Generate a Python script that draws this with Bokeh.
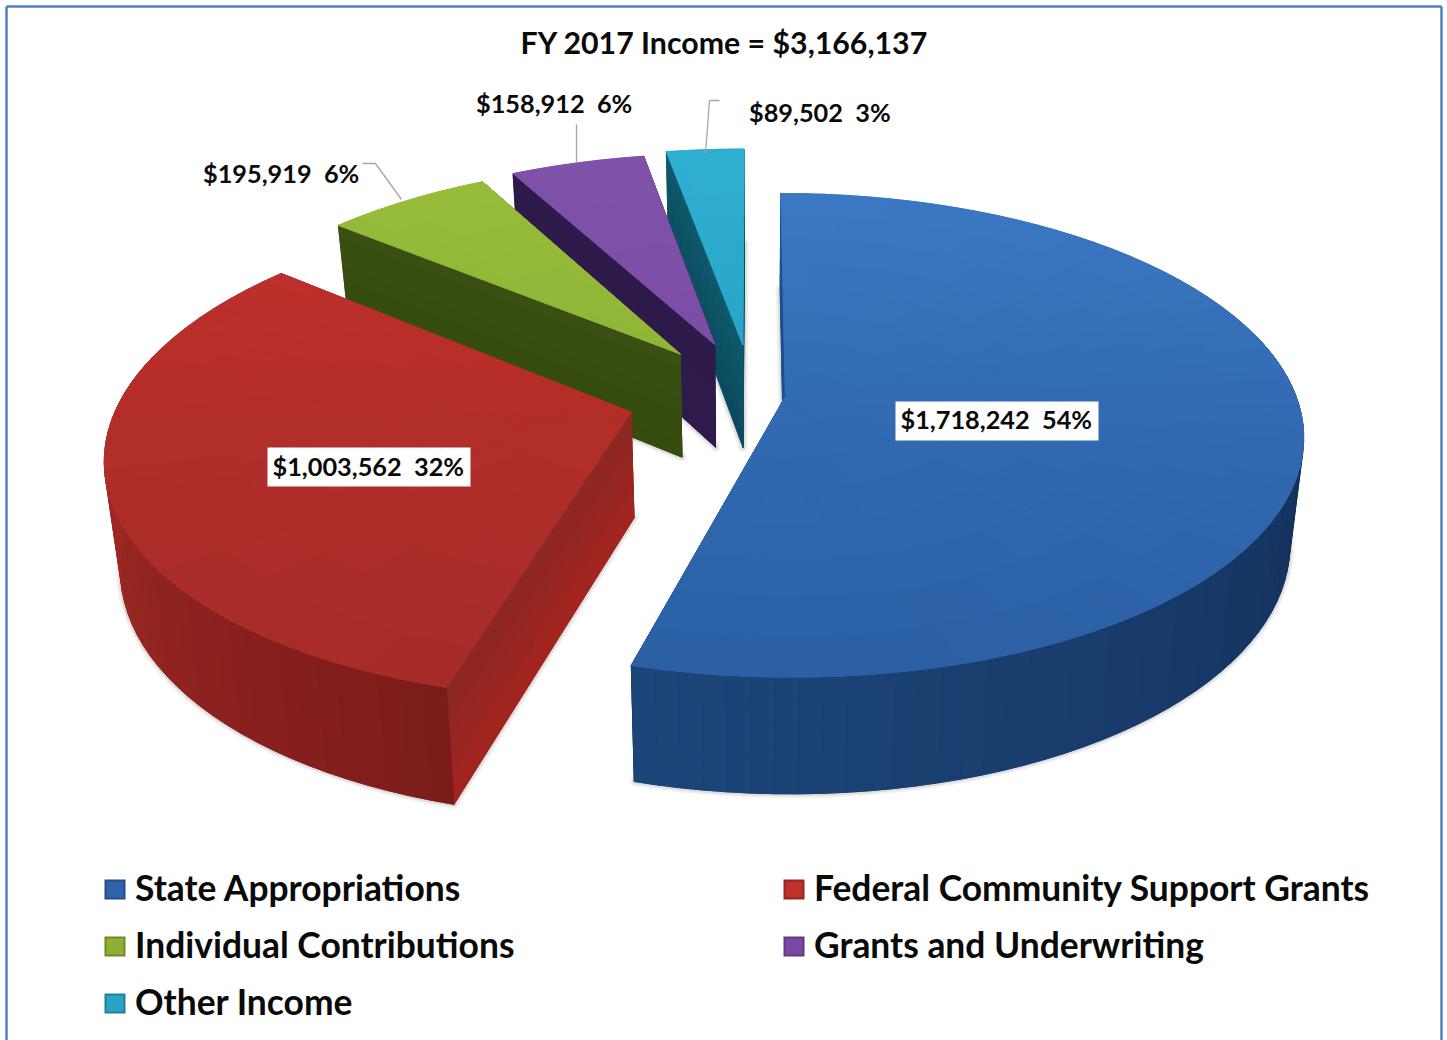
import numpy as np
from bokeh.plotting import figure
from bokeh.models import Range1d
from bokeh.core.properties import value
from bokeh.embed import file_html
from bokeh.resources import INLINE

# ---- data ----
categories = ["State Appropriations", "Federal Community Support Grants",
              "Individual Contributions", "Grants and Underwriting", "Other Income"]
amounts = [1718242, 1003562, 195919, 158912, 89502]
pct_labels = ["54%", "32%", "6%", "6%", "3%"]
chart_title = "FY 2017 Income = $3,166,137"
# explode amount and radius of each slice (Excel point explosion)
explode = [0.065, 0.247, 0.23, 0.234, 0.22]
radius = [1.0, 1.0, 1.0, 1.005, 1.035]

# ---- styles ----
top_light = ["#3c7ac6", "#c4302c", "#98bd3a", "#7f52aa", "#2eaed0"]
top_dark = ["#2a5ea2", "#a52c28", "#86a832", "#7746a0", "#2198bb"]
wall_stops = [["#1f4e8c", "#14315c", "#1c4679"],
              ["#7b1c19", "#9a2723", "#b02d29"],
              ["#3a4f10", "#3a4f10", "#3a4f10"],
              ["#2e1a4a", "#2e1a4a", "#2e1a4a"],
              ["#0f5668", "#0f5668", "#0f5668"]]
face_top = ["#1f4e8c", "#8a2722", "#3a5012", "#2c1a4a", "#0f5a6e"]
face_bottom = ["#1f4e8c", "#a3241f", "#364c0e", "#301a4c", "#0c4a5c"]
FONT = "Lato"

# ---- projection ----
CX, CY, A, B, K = 752.0, 394.0, 510.0, 235.0, 0.16
DEPTH = 105.0


def project(U, V):
    w = 1 - K * V
    return CX + A * U / w, CY + B * V / w, w


def drop(w):
    return DEPTH / w ** 0.6


def rgb(h):
    return np.array([int(h[i:i + 2], 16) for i in (1, 3, 5)], float)


def mix(c1, c2, t):
    t = float(np.clip(t, 0, 1))
    c = rgb(c1) * (1 - t) + rgb(c2) * t
    return "#%02x%02x%02x" % tuple(int(round(v)) for v in c)


def mix3(stops, s):
    return mix(stops[0], stops[1], s * 2) if s < 0.5 else mix(stops[1], stops[2], s * 2 - 1)


p = figure(width=1447, height=1040, x_range=Range1d(0, 1447), y_range=Range1d(1040, 0),
           output_backend="svg", toolbar_location=None, min_border=0, outline_line_color=None,
           x_axis_type=None, y_axis_type=None, background_fill_color="white")
p.grid.visible = False

total = float(sum(amounts))
fracs = np.array(amounts) / total
edges = np.concatenate([[0], np.cumsum(fracs)]) * 2 * np.pi

layers = []
for i in range(len(amounts)):
    t0, t1 = edges[i], edges[i + 1]
    mid = (t0 + t1) / 2
    ox, oy = explode[i] * np.sin(mid), -explode[i] * np.cos(mid)
    R = radius[i]
    n = max(6, int((t1 - t0) / 0.05))
    th = np.linspace(t0, t1, n + 1)

    xs, ys, cs = [], [], []

    def add(px, py, c):
        xs.append(list(px)); ys.append(list(py)); cs.append(c)

    ax, ay, aw = project(np.array([ox]), np.array([oy]))
    ax, ay, aw = ax[0], ay[0], aw[0]
    ex, ey, ew = project(ox + R * np.sin(th), oy - R * np.cos(th))
    dy = drop(ew)
    dya = drop(aw)
    shrink = 0.975
    bx = CX + (ex - CX) * shrink
    bax = CX + (ax - CX) * shrink

    halo = (list(bx) + [bax], list(ey + dy) + [ay + dya])

    # cut faces, banded from top to bottom; the hidden far face goes first
    for k in (-1, 0):
        add([ax, ex[k], bx[k], bax], [ay, ey[k], ey[k] + dy[k], ay + dya], mix(face_top[i], face_bottom[i], .5))
        bands = 7
        for b in range(bands):
            f0, f1 = b / bands, (b + 1) / bands
            lx0 = ax + (bax - ax) * f0; lx1 = ax + (bax - ax) * f1
            rx0 = ex[k] + (bx[k] - ex[k]) * f0; rx1 = ex[k] + (bx[k] - ex[k]) * f1
            add([lx0, rx0, rx1, lx1],
                [ay + dya * f0, ey[k] + dy[k] * f0, ey[k] + dy[k] * f1, ay + dya * f1],
                mix(face_top[i], face_bottom[i], (b + .5) / bands))

    # outer wall, only where it faces the viewer
    fine = np.linspace(t0, t1, max(8, int((t1 - t0) / 0.04)) + 1)
    fx, fy, fw = project(ox + R * np.sin(fine), oy - R * np.cos(fine))
    fd = drop(fw)
    fb = CX + (fx - CX) * shrink
    keep = [j for j in range(len(fine)) if np.cos(fine[j]) < 0.25]
    if keep:
        add(list(fx[keep]) + list(fb[keep])[::-1],
            list(fy[keep]) + list((fy + fd)[keep])[::-1], mix3(wall_stops[i], .5))
    for j in range(len(fine) - 1):
        if np.cos(fine[j]) > 0.25 and np.cos(fine[j + 1]) > 0.25:
            continue
        s = (j + .5) / (len(fine) - 1)
        add([fx[j], fx[j + 1], fb[j + 1], fb[j]],
            [fy[j], fy[j + 1], fy[j + 1] + fd[j + 1], fy[j] + fd[j]], mix3(wall_stops[i], s))

    # top face: underlay, then a mesh for the gradient
    add([ax] + list(ex), [ay] + list(ey), mix(top_light[i], top_dark[i], .5))
    rings = np.linspace(0, R, 9)
    for r0, r1 in zip(rings[:-1], rings[1:]):
        for j in range(n):
            a0, a1 = th[j], th[j + 1]
            U = ox + np.array([r0 * np.sin(a0), r0 * np.sin(a1), r1 * np.sin(a1), r1 * np.sin(a0)])
            V = oy - np.array([r0 * np.cos(a0), r0 * np.cos(a1), r1 * np.cos(a1), r1 * np.cos(a0)])
            qx, qy, _ = project(U, V)
            add(qx, qy, mix(top_light[i], top_dark[i], (V.mean() + 1.1) / 2.2))
    layers.append((halo, xs, ys, cs))

# painter's order: far slices first, blue and red over them
for i in [4, 3, 2, 1, 0]:
    halo, xs, ys, cs = layers[i]
    p.patch(halo[0], halo[1], fill_alpha=0, line_color="#808080", line_alpha=0.10, line_width=9, line_join="round")
    p.patch(halo[0], halo[1], fill_alpha=0, line_color="#606060", line_alpha=0.14, line_width=5, line_join="round")
    p.patches(xs, ys, fill_color=cs, line_color=cs, line_width=0.8)

# frame
FRAME = "#4f81c0"
p.line([6, 1441], [6, 6], line_color=FRAME, line_width=2.5)
p.line([6, 6], [6, 1040], line_color=FRAME, line_width=2.5)
p.line([1441, 1441], [6, 1040], line_color=FRAME, line_width=2.5)

# leader lines
p.line([362, 375, 401], [163, 163, 199], line_color="#a6a6a6", line_width=1.3)
p.line([576, 576], [124, 162], line_color="#a6a6a6", line_width=1.3)
p.line([719, 709, 705], [100, 100, 153], line_color="#a6a6a6", line_width=1.3)

# label boxes
p.quad(left=[895, 267], right=[1098, 470], top=[401, 447], bottom=[440, 486],
       fill_color="white", line_color=None)


def lab(i):
    return "$%s\u00a0\u00a0%s" % (format(amounts[i], ","), pct_labels[i])


def txt(x, y, s, size, align="left"):
    p.text([x], [y], text=[s], text_font=value(FONT), text_font_style="bold",
           text_font_size=size, text_color="#0a0a0a", text_align=align, text_baseline="middle")


txt(724, 41.5, chart_title, "30.3px", "center")
txt(900, 418.5, lab(0), "25.3px")
txt(272, 465.5, lab(1), "25.3px")
txt(202.5, 172.5, lab(2), "25.3px")
txt(475.5, 102.5, lab(3), "25.3px")
txt(748.5, 111.5, lab(4), "25.3px")

# legend
leg_x = [104, 783, 104, 783, 104]
leg_y = [889, 889, 946, 946, 1003]
leg_c = ["#2f63ad", "#c0302c", "#8fb033", "#7a4aa3", "#2aa3c6"]
for i, c in enumerate(categories):
    p.quad(left=[leg_x[i]], right=[leg_x[i] + 21], top=[leg_y[i] - 10], bottom=[leg_y[i] + 10],
           fill_color=mix(leg_c[i], "#000000", .22), line_color=None)
    p.quad(left=[leg_x[i] + 2], right=[leg_x[i] + 19], top=[leg_y[i] - 8], bottom=[leg_y[i] + 8],
           fill_color=leg_c[i], line_color=None)
    txt(leg_x[i] + 30.5, leg_y[i] - 2.5, c, "35.4px")

open("out.html", "w").write(file_html(p, INLINE))
